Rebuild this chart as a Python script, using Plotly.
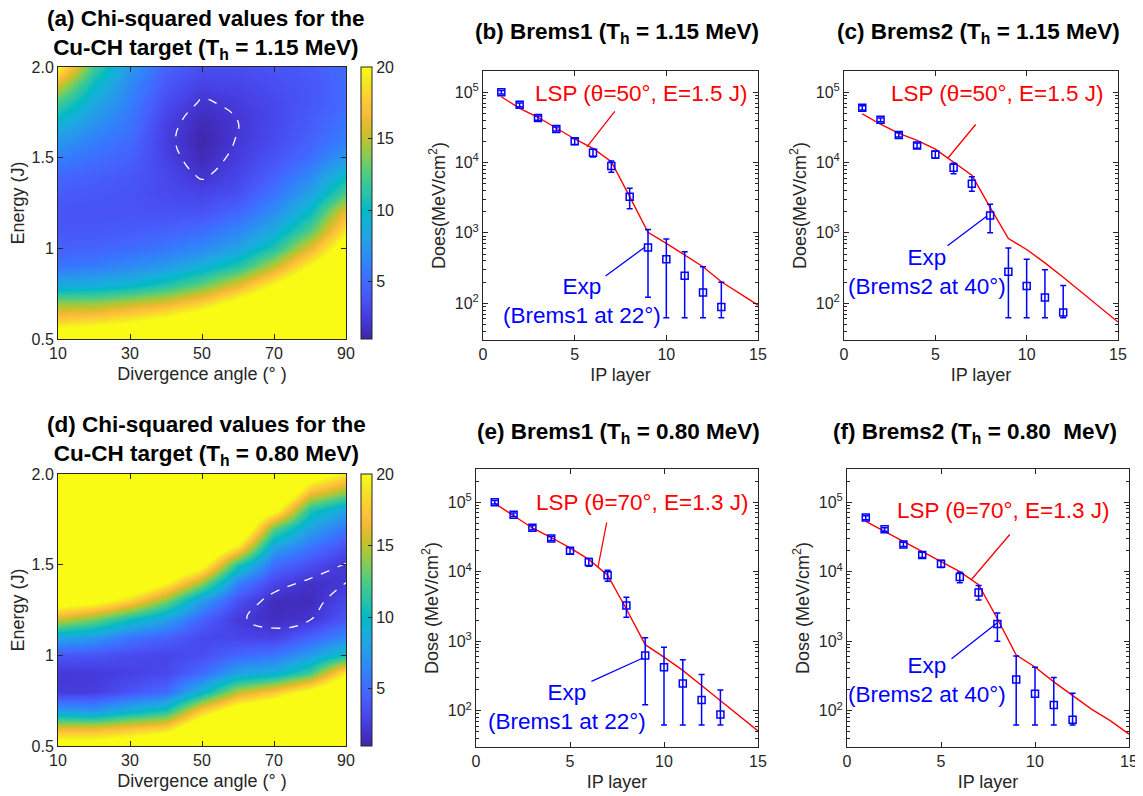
import plotly.graph_objects as go

# ---- data ----
angles = [10, 20, 30, 40, 50, 60, 70, 80, 90]
energies = [0.5, 0.6, 0.7, 0.8, 0.9, 1.0, 1.1, 1.2, 1.3, 1.4, 1.5, 1.6, 1.7, 1.8, 1.9, 2.0]

# chi-squared maps, one row per energy, one column per angle
chi2_115 = [
    [23, 24, 25, 26, 27, 28, 28, 28, 28],
    [18, 18.5, 19.5, 21, 23, 25, 26, 27, 28],
    [14, 14, 15, 16, 18, 21, 24, 26, 28],
    [8.5, 8.8, 9.5, 11, 13, 16, 20, 24, 26],
    [5.5, 5.8, 6.5, 7.5, 9, 11, 15, 20, 24],
    [4.5, 4.6, 5.0, 5.6, 6.5, 8, 11, 16, 22],
    [4.0, 4.0, 4.2, 4.5, 5.0, 6.3, 8.5, 12.5, 19],
    [3.8, 3.8, 3.8, 3.7, 3.8, 4.8, 6.8, 10, 16.5],
    [4.2, 4.0, 3.8, 3.3, 3.0, 3.6, 5.5, 8, 12.5],
    [4.8, 4.4, 4.0, 3.2, 2.0, 3.0, 4.5, 6.5, 10],
    [6.0, 5.2, 4.5, 2.8, 1.4, 2.6, 3.8, 5.2, 7.5],
    [7.5, 6.0, 5.0, 2.6, 1.1, 2.3, 3.3, 4.5, 6.0],
    [9.5, 7.2, 5.5, 2.8, 1.4, 2.2, 3.2, 4.2, 5.5],
    [12, 8.5, 6.0, 3.4, 2.0, 2.5, 3.2, 4.0, 5.0],
    [15.5, 10, 6.5, 4.0, 2.8, 3.0, 3.5, 4.0, 5.0],
    [20, 12, 7.5, 4.5, 3.5, 3.5, 3.8, 4.2, 5.0],
]
chi2_080 = [
    [22, 22, 23, 25, 26, 27, 28, 28, 28],
    [16, 16, 17, 18, 24, 26, 27, 28, 28],
    [7.5, 7, 9, 10.5, 17.5, 22, 24, 27, 28],
    [2.5, 2.6, 3.8, 5, 9.5, 15, 17.5, 21, 25],
    [2.3, 2.4, 2.8, 3.2, 5, 8, 9, 12, 19.5],
    [4, 3.8, 3.3, 3, 3.5, 4.8, 5.5, 7.5, 10.5],
    [8.5, 7.5, 5.5, 4.5, 3.2, 3.0, 2.8, 4.5, 6.5],
    [15.5, 13.5, 10.5, 8, 4.5, 2.4, 1.6, 2.1, 4],
    [22, 21, 18, 13.5, 7.5, 3.5, 1.5, 1.5, 3.2],
    [25, 25, 24, 20, 14, 6, 3, 1.8, 2.2],
    [25, 25, 25, 25, 21, 11, 5, 3.5, 2.1],
    [25, 25, 25, 25, 25, 19, 8, 5.5, 3.5],
    [25, 25, 25, 25, 25, 25, 13, 8, 5.5],
    [25, 25, 25, 25, 25, 25, 21, 11, 8],
    [25, 25, 25, 25, 25, 25, 26, 17, 14],
    [25, 25, 25, 25, 25, 25, 28, 22, 19],
]
contour_level = 2.2

layers_lsp = list(range(1, 16))
layers_b1 = list(range(1, 14))
layers_b2 = list(range(1, 13))

brems1_exp = [1.0e5, 6.6e4, 4.3e4, 3.0e4, 2.0e4, 1.38e4, 8.9e3, 3.25e3, 620, 420, 245, 142, 88]
brems1_hi = [1.06e5, 7.0e4, 4.6e4, 3.2e4, 2.2e4, 1.55e4, 1.05e4, 4.3e3, 1120, 815, 540, 330, 198]
brems1_lo = [0.94e5, 6.2e4, 4.0e4, 2.8e4, 1.8e4, 1.2e4, 7.3e3, 2.2e3, 122, 62, 62, 62, 62]

brems2_exp = [6.0e4, 4.06e4, 2.46e4, 1.74e4, 1.3e4, 8.4e3, 5.0e3, 1.77e3, 280, 175, 121, 74]
brems2_hi = [6.4e4, 4.3e4, 2.65e4, 1.9e4, 1.45e4, 9.8e3, 6.3e3, 2.55e3, 610, 420, 300, 178]
brems2_lo = [5.6e4, 3.8e4, 2.3e4, 1.6e4, 1.15e4, 6.9e3, 3.9e3, 1.0e3, 62, 62, 62, 62]

lsp_b = [8.6e4, 5.9e4, 4.4e4, 3.06e4, 2.16e4, 1.59e4, 1.03e4, 3.27e3, 1.02e3, 710, 484, 330, 202, 138, 94]
lsp_c = [4.9e4, 3.5e4, 2.6e4, 2.07e4, 1.55e4, 1.02e4, 6.6e3, 2.3e3, 830, 580, 375, 234, 145, 88, 54]
lsp_e = [9.6e4, 6.3e4, 4.25e4, 3.1e4, 2.2e4, 1.5e4, 8.9e3, 2.9e3, 890, 590, 380, 230, 140, 85, 51]
lsp_f = [5.3e4, 3.8e4, 2.7e4, 1.95e4, 1.4e4, 1.0e4, 6.5e3, 2.1e3, 630, 425, 260, 165, 105, 72, 46]

# ---- style ----
FONT = "Liberation Sans, Arial, sans-serif"
INK = "#262626"
BIG = 22.5
# the page puts the plot 8 px in from the window's top-left corner
OFF = 8
W, H = 1143 - OFF, 796 - OFF


def fx(p):
    return (p - OFF) / W


def fy(p):
    return 1 - (p - OFF) / H


PARULA = [
    [0.2422, 0.1504, 0.6603], [0.2647, 0.1978, 0.7952], [0.2783, 0.2559, 0.8991],
    [0.2810, 0.3228, 0.9579], [0.2699, 0.3892, 0.9906], [0.2206, 0.4603, 0.9973],
    [0.1786, 0.5289, 0.9682], [0.1540, 0.5902, 0.9218], [0.1248, 0.6459, 0.8883],
    [0.0689, 0.6948, 0.8394], [0.0067, 0.7312, 0.7660], [0.1408, 0.7584, 0.6842],
    [0.2161, 0.7843, 0.5923], [0.3406, 0.8008, 0.4789], [0.5044, 0.7993, 0.3480],
    [0.6720, 0.7793, 0.2227], [0.8203, 0.7498, 0.1535], [0.9393, 0.7288, 0.2100],
    [0.9970, 0.7659, 0.2199], [0.9786, 0.8386, 0.1766], [0.9597, 0.9135, 0.1423],
    [0.9769, 0.9839, 0.0805],
]
parula_scale = [[i / (len(PARULA) - 1), "rgb(%d,%d,%d)" % tuple(round(c * 255) for c in rgb)]
                for i, rgb in enumerate(PARULA)]


def frame_axis(domain, **kw):
    ax = dict(domain=domain, showline=True, linecolor=INK, linewidth=1, mirror="ticks",
              ticks="inside", ticklen=5, tickcolor=INK, showgrid=False, zeroline=False,
              tickfont=dict(family=FONT, size=16, color=INK),
              title_font=dict(family=FONT, size=18, color=INK), automargin=False)
    ax.update(kw)
    return ax


fig = go.Figure()


def add_map(z, xa, ya, cb_mid):
    fig.add_trace(go.Heatmap(x=angles, y=energies, z=z, zmin=1, zmax=20, zsmooth="best",
                             colorscale=parula_scale, xaxis=xa, yaxis=ya, hoverinfo="skip",
                             colorbar=dict(x=fx(361), xanchor="left", y=fy(cb_mid),
                                           yanchor="middle", len=272 / H, thickness=11,
                                           xpad=0, ypad=0,
                                           outlinecolor=INK, outlinewidth=1, ticks="inside",
                                           ticklen=4, tickcolor=INK, tickvals=[5, 10, 15, 20],
                                           tickfont=dict(family=FONT, size=16, color=INK))))
    fig.add_trace(go.Contour(x=angles, y=energies, z=z, showscale=False, xaxis=xa, yaxis=ya,
                             contours=dict(start=contour_level, end=contour_level, size=1,
                                           coloring="none"),
                             line=dict(color="white", width=1.3, dash="dash", smoothing=1.3),
                             hoverinfo="skip"))


def add_dose(lsp, layers, exp, hi, lo, xa, ya):
    fig.add_trace(go.Scatter(x=layers_lsp, y=lsp, mode="lines", xaxis=xa, yaxis=ya,
                             line=dict(color="#ff0000", width=1.4), showlegend=False))
    fig.add_trace(go.Scatter(
        x=layers, y=exp, mode="markers", xaxis=xa, yaxis=ya, showlegend=False,
        marker=dict(symbol="square-open", size=7, color="#0000ff", line=dict(width=1.5)),
        error_y=dict(type="data", symmetric=False,
                     array=[h - v for h, v in zip(hi, exp)],
                     arrayminus=[v - l for v, l in zip(exp, lo)],
                     color="#0000ff", thickness=1.5, width=3)))


add_map(chi2_115, "x", "y", 203)
add_dose(lsp_b, layers_b1, brems1_exp, brems1_hi, brems1_lo, "x2", "y2")
add_dose(lsp_c, layers_b2, brems2_exp, brems2_hi, brems2_lo, "x3", "y3")
add_map(chi2_080, "x4", "y4", 610)
add_dose(lsp_e, layers_b1, brems1_exp, brems1_hi, brems1_lo, "x5", "y5")
add_dose(lsp_f, layers_b2, brems2_exp, brems2_hi, brems2_lo, "x6", "y6")

minor_log = [m * 10 ** e for e in range(1, 6) for m in range(2, 10)]
dec_vals = [1e2, 1e3, 1e4, 1e5]
dec_text = ["10<sup>2</sup>", "10<sup>3</sup>", "10<sup>4</sup>", "10<sup>5</sup>"]


def map_axes(top, bottom):
    xa = frame_axis([fx(58), fx(346)], range=[10, 90], tickvals=[10, 30, 50, 70, 90],
                    title=dict(text="Divergence angle (° )", standoff=6))
    ya = frame_axis([fy(bottom), fy(top)], range=[0.5, 2.0], tickvals=[0.5, 1, 1.5, 2.0],
                    ticktext=["0.5", "1", "1.5", "2.0"], title=dict(text="Energy (J)", standoff=4))
    return xa, ya


def dose_axes(left, right, top, bottom, ytop, ytitle):
    xa = frame_axis([fx(left), fx(right)], range=[0, 15], tickvals=[0, 5, 10, 15],
                    title=dict(text="IP layer", standoff=6))
    ya = frame_axis([fy(bottom), fy(top)], type="log", range=[1.4771, ytop], tickvals=dec_vals,
                    ticktext=dec_text,
                    minor=dict(ticks="inside", ticklen=3, tickcolor=INK, tickvals=minor_log),
                    title=dict(text=ytitle, standoff=4))
    return xa, ya


xa1, ya1 = map_axes(67, 339)
xa2, ya2 = dose_axes(483, 758, 71, 340, 5.301, "Does(MeV/cm<sup>2</sup>)")
xa3, ya3 = dose_axes(844, 1118, 71, 340, 5.301, "Does(MeV/cm<sup>2</sup>)")
xa4, ya4 = map_axes(474, 746)
xa5, ya5 = dose_axes(476, 758, 469, 747, 5.4771, "Dose (MeV/cm<sup>2</sup>)")
xa6, ya6 = dose_axes(847, 1129, 469, 747, 5.4771, "Dose (MeV/cm<sup>2</sup>)")

fig.update_layout(
    width=W, height=H, margin=dict(l=0, r=0, t=0, b=0),
    paper_bgcolor="white", plot_bgcolor="white", showlegend=False,
    font=dict(family=FONT, color=INK),
    xaxis=dict(xa1, anchor="y"), yaxis=dict(ya1, anchor="x"),
    xaxis2=dict(xa2, anchor="y2"), yaxis2=dict(ya2, anchor="x2"),
    xaxis3=dict(xa3, anchor="y3"), yaxis3=dict(ya3, anchor="x3"),
    xaxis4=dict(xa4, anchor="y4"), yaxis4=dict(ya4, anchor="x4"),
    xaxis5=dict(xa5, anchor="y5"), yaxis5=dict(ya5, anchor="x5"),
    xaxis6=dict(xa6, anchor="y6"), yaxis6=dict(ya6, anchor="x6"),
)

# panel titles
titles = [
    ("(a) Chi-squared values for the<br>Cu-CH target (T<sub>h</sub> = 1.15 MeV)", 206, 35),
    ("(b) Brems1 (T<sub>h</sub> = 1.15 MeV)", 617, 33),
    ("(c) Brems2 (T<sub>h</sub> = 1.15 MeV)", 978, 33),
    ("(d) Chi-squared values for the<br>Cu-CH target (T<sub>h</sub> = 0.80 MeV)", 206, 440),
    ("(e) Brems1 (T<sub>h</sub> = 0.80 MeV)", 618, 433),
    ("(f) Brems2 (T<sub>h</sub> = 0.80\u00a0 MeV)", 975, 433),
]
for text, px, py in titles:
    fig.add_annotation(text="<b>%s</b>" % text, xref="paper", yref="paper", x=fx(px),
                       y=fy(py), xanchor="center", yanchor="middle", showarrow=False,
                       font=dict(family=FONT, size=BIG, color="black"))

# labels with leader lines: (axis, label, label x, label log-y, colour, tip x, tip log-y, ax, ay)
labels = [
    ("2", "LSP (θ=50°, E=1.5 J)", 8.62, 4.988, "#ff0000", 5.67, 4.221, 29, -37),
    ("2", "Exp<br>(Brems1 at 22°)", 5.4, 2.031, "#0000ff", 8.84, 2.799, -41, 30),
    ("3", "LSP (θ=50°, E=1.5 J)", 8.38, 4.988, "#ff0000", 5.69, 4.064, 29, -35),
    ("3", "Exp<br>(Brems2 at 40°)", 4.54, 2.444, "#0000ff", 7.83, 3.240, -41, 31),
    ("5", "LSP (θ=70°, E=1.3 J)", 8.83, 4.988, "#ff0000", 6.49, 4.067, 9, -46),
    ("5", "Exp<br>(Brems1 at 22°)", 4.84, 2.053, "#0000ff", 8.88, 2.758, -53, 24),
    ("6", "LSP (θ=70°, E=1.3 J)", 8.30, 4.887, "#ff0000", 6.60, 3.880, 40, -47),
    ("6", "Exp<br>(Brems2 at 40°)", 4.26, 2.441, "#0000ff", 7.98, 3.261, -47, 37),
]
for n, text, tx, ty, col, ax_x, ax_y, dx, dy in labels:
    fig.add_annotation(text=text, xref="x" + n, yref="y" + n, x=tx, y=ty, showarrow=False,
                       font=dict(family=FONT, size=BIG, color=col), xanchor="center",
                       yanchor="middle")
    fig.add_annotation(text="", xref="x" + n, yref="y" + n, x=ax_x, y=ax_y, ax=dx, ay=dy,
                       showarrow=True, arrowhead=0, arrowwidth=1.3, arrowcolor=col, standoff=0)

fig.write_html("out.html")
